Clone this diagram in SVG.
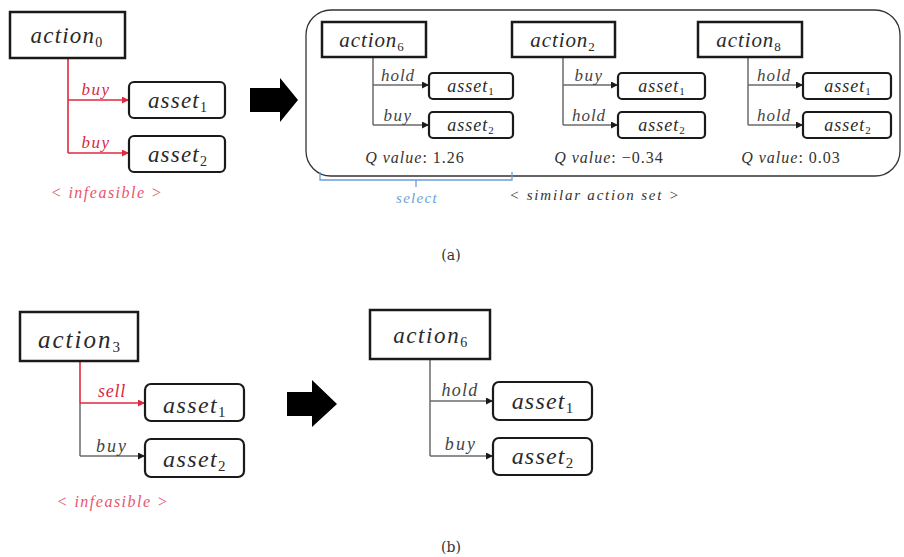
<svg xmlns="http://www.w3.org/2000/svg" width="904" height="557" viewBox="0 0 904 557">
<style>
.act{fill:#fff;stroke:#1a1a1a;stroke-width:2.5}
.ast{fill:#fff;stroke:#1a1a1a;stroke-width:2.2}
.t{font-family:"Liberation Serif",serif;font-style:italic;fill:#2a2a2a;text-anchor:middle}
.t tspan{font-style:normal}
.lbl{font-family:"Liberation Serif",serif;font-style:italic;fill:#444;font-size:17px;letter-spacing:1px;text-anchor:middle}
.red{fill:#d8283e}
.inf{font-family:"Liberation Serif",serif;font-style:italic;fill:#e8546c;font-size:16px;letter-spacing:1.5px;text-anchor:middle}
.q{font-family:"Liberation Serif",serif;fill:#333;font-size:16px;letter-spacing:1px;text-anchor:middle}
.cap{font-family:"DejaVu Serif",serif;fill:#333;font-size:14px;text-anchor:middle}
.lr{stroke:#e0283e;stroke-width:1.6;fill:none}
.lg{stroke:#6a6a6a;stroke-width:1.5;fill:none}
</style>
<defs>
<marker id="ar" viewBox="0 0 10 10" refX="10" refY="5" markerWidth="8" markerHeight="7" markerUnits="userSpaceOnUse" orient="auto"><path d="M0,0 L10,5 L0,10 z" fill="#e0283e"/></marker>
<marker id="ab" viewBox="0 0 10 10" refX="10" refY="5" markerWidth="8" markerHeight="7" markerUnits="userSpaceOnUse" orient="auto"><path d="M0,0 L10,5 L0,10 z" fill="#1a1a1a"/></marker>
</defs>

<g id="connectors">
<path class="lr" d="M68,58 V153"/>
<path class="lr" d="M68,100 H129" marker-end="url(#ar)"/>
<path class="lr" d="M68,153 H129" marker-end="url(#ar)"/>
<path class="lg" d="M373,57 V125"/>
<path class="lg" d="M373,85 H429" marker-end="url(#ab)"/>
<path class="lg" d="M373,125 H429" marker-end="url(#ab)"/>
<path class="lg" d="M563,57 V125"/>
<path class="lg" d="M563,85 H618" marker-end="url(#ab)"/>
<path class="lg" d="M563,125 H618" marker-end="url(#ab)"/>
<path class="lg" d="M748,57 V125"/>
<path class="lg" d="M748,85 H803" marker-end="url(#ab)"/>
<path class="lg" d="M748,125 H803" marker-end="url(#ab)"/>
<path class="lr" d="M80,361 V403"/>
<path class="lg" d="M80,403 V456"/>
<path class="lr" d="M80,403 H145" marker-end="url(#ar)"/>
<path class="lg" d="M80,456 H145" marker-end="url(#ab)"/>
<path class="lg" d="M430,359 V456"/>
<path class="lg" d="M430,401 H493" marker-end="url(#ab)"/>
<path class="lg" d="M430,456 H493" marker-end="url(#ab)"/>
</g>

<g id="edge-labels">
<text class="lbl red" x="96" y="95" style="letter-spacing:1.5px">buy</text>
<text class="lbl red" x="96" y="148" style="letter-spacing:1.5px">buy</text>
<text class="lbl" x="398" y="81">hold</text>
<text class="lbl" x="398" y="121" style="letter-spacing:1.5px">buy</text>
<text class="lbl" x="589" y="81" style="letter-spacing:1.5px">buy</text>
<text class="lbl" x="589" y="121">hold</text>
<text class="lbl" x="774" y="81">hold</text>
<text class="lbl" x="774" y="121">hold</text>
<text class="lbl red" x="112" y="397" style="font-size:18px;letter-spacing:0.8px">sell</text>
<text class="lbl" x="112" y="452" style="font-size:18px;letter-spacing:2px">buy</text>
<text class="lbl" x="460" y="396" style="font-size:18px;letter-spacing:1.3px">hold</text>
<text class="lbl" x="461" y="450" style="font-size:18px;letter-spacing:2.2px">buy</text>
</g>

<g id="action0"><rect class="act" x="10" y="12" width="115" height="46"/><text class="t" x="67" y="43" font-size="23" letter-spacing="1.2">action<tspan font-size="14" dy="4">0</tspan></text></g>
<g id="a-asset1"><rect class="ast" x="129" y="82" width="96" height="36" rx="5"/><text class="t" x="178" y="108" font-size="23" letter-spacing="1.2">asset<tspan font-size="14" dy="4">1</tspan></text></g>
<g id="a-asset2"><rect class="ast" x="129" y="136" width="96" height="36" rx="5"/><text class="t" x="178" y="162" font-size="23" letter-spacing="1.2">asset<tspan font-size="14" dy="4">2</tspan></text></g>
<text class="inf" x="107" y="198">&lt; infeasible &gt;</text>

<g id="arrow-a"><polygon points="250,88 280,88 280,78 298,100 280,122 280,112 250,112" fill="#000"/></g>

<g id="similar-set">
<rect x="306" y="10" width="594" height="166" rx="25" fill="none" stroke="#333" stroke-width="1.3"/>
</g>
<g id="action6-a"><rect class="act" x="322" y="22" width="104" height="35"/><text class="t" x="372" y="47" font-size="21" letter-spacing="0.9">action<tspan font-size="13" dy="4">6</tspan></text></g>
<g id="u1-asset1"><rect class="ast" x="429" y="73" width="84" height="26" rx="4"/><text class="t" x="471" y="92" font-size="18" letter-spacing="1">asset<tspan font-size="11" dy="3">1</tspan></text></g>
<g id="u1-asset2"><rect class="ast" x="429" y="112" width="84" height="26" rx="4"/><text class="t" x="471" y="131" font-size="18" letter-spacing="1">asset<tspan font-size="11" dy="3">2</tspan></text></g>
<g id="action2"><rect class="act" x="512" y="22" width="103" height="35"/><text class="t" x="563" y="47" font-size="21" letter-spacing="0.9">action<tspan font-size="13" dy="4">2</tspan></text></g>
<g id="u2-asset1"><rect class="ast" x="618" y="73" width="87" height="26" rx="4"/><text class="t" x="662" y="92" font-size="18" letter-spacing="1">asset<tspan font-size="11" dy="3">1</tspan></text></g>
<g id="u2-asset2"><rect class="ast" x="618" y="112" width="87" height="26" rx="4"/><text class="t" x="662" y="131" font-size="18" letter-spacing="1">asset<tspan font-size="11" dy="3">2</tspan></text></g>
<g id="action8"><rect class="act" x="698" y="22" width="104" height="35"/><text class="t" x="749" y="47" font-size="21" letter-spacing="0.9">action<tspan font-size="13" dy="4">8</tspan></text></g>
<g id="u3-asset1"><rect class="ast" x="803" y="73" width="88" height="26" rx="4"/><text class="t" x="848" y="92" font-size="18" letter-spacing="1">asset<tspan font-size="11" dy="3">1</tspan></text></g>
<g id="u3-asset2"><rect class="ast" x="803" y="112" width="88" height="26" rx="4"/><text class="t" x="848" y="131" font-size="18" letter-spacing="1">asset<tspan font-size="11" dy="3">2</tspan></text></g>

<text class="q" x="415" y="163"><tspan font-style="italic">Q value</tspan>: 1.26</text>
<text class="q" x="609" y="163"><tspan font-style="italic">Q value</tspan>: −0.34</text>
<text class="q" x="791" y="163"><tspan font-style="italic">Q value</tspan>: 0.03</text>

<g id="select">
<path d="M320,172 V180 H512 V172 M416,180 V187" fill="none" stroke="#6b9fd6" stroke-width="1.3"/>
<text class="lbl" x="417" y="203" style="fill:#6b9fd6;font-size:15px;letter-spacing:1.3px">select</text>
</g>
<text class="lbl" x="595" y="200" style="fill:#333;font-size:15px;letter-spacing:1.8px">&lt; similar action set &gt;</text>
<text class="cap" x="451" y="260">(a)</text>

<g id="action3"><rect class="act" x="20" y="312" width="118" height="49"/><text class="t" x="80" y="348" font-size="25" letter-spacing="2">action<tspan font-size="15" dy="4">3</tspan></text></g>
<g id="b-asset1"><rect class="ast" x="145" y="384" width="99" height="37" rx="6"/><text class="t" x="195" y="413" font-size="24" letter-spacing="1.4">asset<tspan font-size="15" dy="4">1</tspan></text></g>
<g id="b-asset2"><rect class="ast" x="145" y="439" width="99" height="38" rx="6"/><text class="t" x="195" y="467" font-size="24" letter-spacing="1.4">asset<tspan font-size="15" dy="4">2</tspan></text></g>
<text class="inf" x="113" y="507">&lt; infeasible &gt;</text>

<g id="arrow-b"><polygon points="287,392 312,392 312,380 337,404 312,427 312,416 287,416" fill="#000"/></g>

<g id="action6-b"><rect class="act" x="370" y="310" width="120" height="49"/><text class="t" x="431" y="343" font-size="23" letter-spacing="1.6">action<tspan font-size="14" dy="4">6</tspan></text></g>
<g id="c-asset1"><rect class="ast" x="493" y="382" width="99" height="38" rx="6"/><text class="t" x="543" y="409" font-size="24" letter-spacing="1.2">asset<tspan font-size="15" dy="4">1</tspan></text></g>
<g id="c-asset2"><rect class="ast" x="493" y="438" width="99" height="37" rx="6"/><text class="t" x="543" y="464" font-size="24" letter-spacing="1.2">asset<tspan font-size="15" dy="4">2</tspan></text></g>
<text class="cap" x="451" y="552">(b)</text>
</svg>
